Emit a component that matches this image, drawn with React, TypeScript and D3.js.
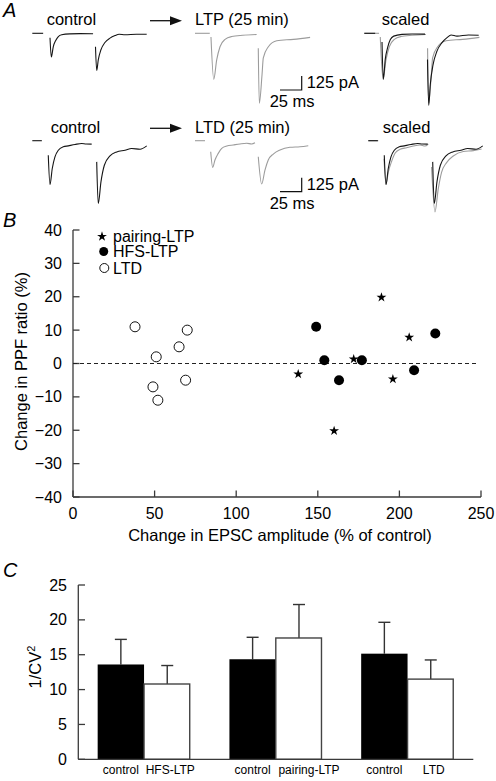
import React from "react";
import * as d3 from "d3";

// ---------- Panel A: EPSC traces ([time ms, current pA]) ----------
const ltpControlPre: [number, number][] = [[0, 0], [12.5, 0]];
const ltpControl1: [number, number][] = [[20.4, -40], [21.9, -212], [24.2, -118], [27, -64], [30, -29], [33.9, -13], [43.4, -5], [55, -3], [70, -4]];
const ltpControl2: [number, number][] = [[72.8, -121], [74.2, -332], [76, -237], [79.1, -147], [83.7, -82], [89.5, -43], [95.3, -20], [100, -8], [106.8, -13], [120, -8], [131.8, -9]];
const ltpPostPre: [number, number][] = [[0, 0], [17, 0]];
const ltpPost1: [number, number][] = [[18.4, -33], [21.6, -411], [25, -238], [28.8, -120], [34.6, -54], [42.2, -29], [55, -18], [71, -11]];
const ltpPost2: [number, number][] = [[72.9, -134], [74.1, -625], [77.2, -372], [78.7, -220], [84.5, -120], [94.2, -66], [113.4, -54], [132.6, -36]];

const ltdControlPre: [number, number][] = [[0, 0], [11, 0]];
const ltdControl1: [number, number][] = [[18.4, -129], [20.4, -391], [23, -248], [26.1, -145], [30, -85], [35.7, -55], [41.5, -46], [49.2, -34], [56.9, -25], [62, -30], [68.4, -31]];
const ltdControl2: [number, number][] = [[74.2, -189], [76, -561], [79.1, -368], [83, -219], [89.5, -136], [97.2, -100], [106.8, -85], [114.5, -70], [124.1, -76], [131.8, -46]];
const ltdPostPre: [number, number][] = [[0, 0], [11.5, 0]];
const ltdPost1: [number, number][] = [[18.1, -98], [20.4, -238], [23, -172], [26.8, -113], [30.8, -68], [36.7, -47], [44.1, -38], [51.8, -29], [59.6, -23], [65.3, -29], [69.1, -18]];
const ltdPost2: [number, number][] = [[72.9, -143], [76.8, -387], [80.6, -262], [84.4, -172], [90.2, -119], [97.9, -83], [109.4, -59], [121, -54], [130.5, -45]];

const scaleBarMs = 25;
const scaleBarPA = 125;

// ---------- Panel B: PPF vs EPSC amplitude ----------
const pairingLTP: [number, number][] = [[138, -3], [160, -20], [172, 1.5], [189, 20], [206, 8], [196, -4.5]];
const hfsLTP: [number, number][] = [[149, 11], [154, 1], [163, -5], [177, 1], [209, -2], [222, 9]];
const ltdPoints: [number, number][] = [[38, 11], [51, 2], [49, -7], [52, -11], [65, 5], [70, 10], [69, -5]];
const bXTicks = [0, 50, 100, 150, 200, 250];
const bYTicks = [-40, -30, -20, -10, 0, 10, 20, 30, 40];
const legendLabels = ["pairing-LTP", "HFS-LTP", "LTD"];

// ---------- Panel C: 1/CV^2 bars ----------
const groups = ["HFS", "pairing", "LTD"];
const barLabels = [["control", "HFS-LTP"], ["control", "pairing-LTP"], ["control", "LTD"]];
const barValues = [[13.6, 10.8], [14.35, 17.4], [15.15, 11.5]];
const barErrors = [[3.6, 2.65], [3.15, 4.8], [4.5, 2.75]];
const cYTicks = [0, 5, 10, 15, 20, 25];

const FONT = "'Liberation Sans', Arial, Helvetica, sans-serif";
const AXIS = "#3a3a3a";

type Pt = [number, number];

function TraceGroup({ colStart, baseline, segs, color, factor = 1 }: { colStart: number; baseline: number; segs: Pt[][]; color: string; factor?: number }) {
  const x = d3.scaleLinear().domain([0, scaleBarMs]).range([colStart, colStart + 21.7]);
  const y = d3.scaleLinear().domain([0, -scaleBarPA]).range([baseline, baseline + 14]);
  const line = d3.line<Pt>().x((d) => x(d[0])).y((d) => y(d[1] * factor)).curve(d3.curveMonotoneX);
  return (
    <g>
      {segs.map((s, i) => (
        <path key={i} d={line(s) || ""} fill="none" stroke={color} strokeWidth={1.1} strokeLinejoin="round" />
      ))}
    </g>
  );
}

function ScaleBar({ cx, cy, labelY1, labelY2 }: { cx: number; cy: number; labelY1: number; labelY2: number }) {
  const x = d3.scaleLinear().domain([0, scaleBarMs]).range([0, 21.7]);
  const y = d3.scaleLinear().domain([0, scaleBarPA]).range([0, 14]);
  return (
    <g>
      <path d={`M${cx - x(scaleBarMs)},${cy}H${cx}V${cy - y(scaleBarPA)}`} fill="none" stroke="#111" strokeWidth={1.2} />
      <text x={cx + 5} y={labelY1} fontSize={16.5} fontFamily={FONT}>{`${scaleBarPA} pA`}</text>
      <text x={cx - 32} y={labelY2} fontSize={16.5} fontFamily={FONT}>{`${scaleBarMs} ms`}</text>
    </g>
  );
}

function Arrow({ y }: { y: number }) {
  return (
    <g>
      <line x1={150} x2={172} y1={y} y2={y} stroke="#111" strokeWidth={1.3} />
      <polygon points={`170,${y - 4.5} 182,${y} 170,${y + 4.5}`} fill="#111" />
    </g>
  );
}

function peak(s: Pt[]) {
  return d3.min(s, (d) => d[1]) as number;
}

function PanelA() {
  const gray = "#9c9c9c";
  const black = "#151515";
  // LTP row: scale control up to LTP amplitude
  const kLtp = peak(ltpPost1) / peak(ltpControl1);
  // LTD row: scale LTD up to control amplitude
  const kLtd = peak(ltdControl1) / peak(ltdPost1);
  const r1 = 33.3, r2 = 140.7;
  const fs = 16.5;
  return (
    <g fontFamily={FONT}>
      <text x={3} y={17} fontSize={20} fontStyle="italic">A</text>
      {/* row 1 */}
      <text x={46.7} y={25} fontSize={fs}>control</text>
      <text x={195} y={25} fontSize={fs}>LTP (25 min)</text>
      <text x={381.7} y={25} fontSize={fs}>scaled</text>
      <Arrow y={20.7} />
      <TraceGroup colStart={32.3} baseline={r1} segs={[ltpControlPre, ltpControl1, ltpControl2]} color={black} />
      <TraceGroup colStart={195} baseline={r1} segs={[ltpPostPre, ltpPost1, ltpPost2]} color={gray} />
      <TraceGroup colStart={364.3} baseline={r1} segs={[ltpPostPre, ltpPost1, ltpPost2]} color={gray} />
      <TraceGroup colStart={364.3} baseline={r1} segs={[ltpControlPre, ltpControl1, ltpControl2]} color={black} factor={kLtp} />
      <ScaleBar cx={301.7} cy={90} labelY1={88.3} labelY2={107.3} />
      {/* row 2 */}
      <text x={50.7} y={133} fontSize={fs}>control</text>
      <text x={195} y={133} fontSize={fs}>LTD (25 min)</text>
      <text x={382.7} y={133} fontSize={fs}>scaled</text>
      <Arrow y={128.3} />
      <TraceGroup colStart={32.3} baseline={r2} segs={[ltdControlPre, ltdControl1, ltdControl2]} color={black} />
      <TraceGroup colStart={195} baseline={r2} segs={[ltdPostPre, ltdPost1, ltdPost2]} color={gray} />
      <TraceGroup colStart={368.3} baseline={r2} segs={[ltdPostPre, ltdPost1, ltdPost2]} color={gray} factor={kLtd} />
      <TraceGroup colStart={368.3} baseline={r2} segs={[ltdControlPre, ltdControl1, ltdControl2]} color={black} />
      <ScaleBar cx={301.7} cy={191.7} labelY1={190} labelY2={209.3} />
    </g>
  );
}

function PanelB() {
  const x = d3.scaleLinear().domain([0, 250]).range([73, 481]);
  const y = d3.scaleLinear().domain([-40, 40]).range([497, 230]);
  const star = d3.symbol().type(d3.symbolStar).size(30)() || "";
  const legY = [236, 251.5, 268];
  return (
    <g fontFamily={FONT}>
      <text x={3} y={227} fontSize={20} fontStyle="italic">B</text>
      <line x1={x(0)} x2={x(0)} y1={y(40)} y2={y(-40)} stroke={AXIS} strokeWidth={1.3} />
      <line x1={x(0)} x2={x(250)} y1={y(-40)} y2={y(-40)} stroke={AXIS} strokeWidth={1.3} />
      {bYTicks.map((t) => (
        <g key={t}>
          <line x1={x(0)} x2={x(0) + 6.5} y1={y(t)} y2={y(t)} stroke={AXIS} strokeWidth={1.3} />
          <text x={62} y={y(t)} dy="0.35em" textAnchor="end" fontSize={16}>{t < 0 ? `\u2212${-t}` : `${t}`}</text>
        </g>
      ))}
      {bXTicks.map((t) => (
        <g key={t}>
          <line x1={x(t)} x2={x(t)} y1={y(-40)} y2={y(-40) - 6.5} stroke={AXIS} strokeWidth={1.3} />
          <text x={x(t)} y={518.5} textAnchor="middle" fontSize={16}>{t}</text>
        </g>
      ))}
      <line x1={x(0)} x2={x(248)} y1={y(0)} y2={y(0)} stroke="#222" strokeWidth={1} strokeDasharray="4,3" />
      <text transform={`translate(27,${y(0) - 2}) rotate(-90)`} textAnchor="middle" fontSize={16.5}>Change in PPF ratio (%)</text>
      <text x={280} y={540.5} textAnchor="middle" fontSize={16.5}>Change in EPSC amplitude (% of control)</text>
      {ltdPoints.map((d, i) => (
        <circle key={`l${i}`} cx={x(d[0])} cy={y(d[1])} r={5} fill="#fff" stroke="#111" strokeWidth={1} />
      ))}
      {hfsLTP.map((d, i) => (
        <circle key={`h${i}`} cx={x(d[0])} cy={y(d[1])} r={5} fill="#000" />
      ))}
      {pairingLTP.map((d, i) => (
        <path key={`p${i}`} d={star} transform={`translate(${x(d[0])},${y(d[1]) + 0.6})`} fill="#000" />
      ))}
      {/* legend */}
      <path d={star} transform={`translate(102,${legY[0] + 0.5})`} fill="#000" />
      <circle cx={103.7} cy={legY[1]} r={4.5} fill="#000" />
      <circle cx={104.3} cy={legY[2]} r={4.5} fill="#fff" stroke="#111" strokeWidth={1} />
      {legendLabels.map((l, i) => (
        <text key={l} x={113} y={legY[i]} dy="0.36em" fontSize={16}>{l}</text>
      ))}
    </g>
  );
}

function PanelC() {
  const y = d3.scaleLinear().domain([0, 25]).range([759.3, 585]);
  const gx = d3.scaleBand().domain(groups).range([78.3, 473.3]).paddingInner(0.296).paddingOuter(0.147);
  const bx = d3.scaleBand().domain(["control", "post"]).range([0, gx.bandwidth()]);
  return (
    <g fontFamily={FONT}>
      <text x={3} y={577} fontSize={20} fontStyle="italic">C</text>
      {groups.map((g, gi) => (
        <g key={g} transform={`translate(${gx(g)},0)`}>
          {["control", "post"].map((b, bi) => {
            const v = barValues[gi][bi];
            const e = barErrors[gi][bi];
            const x0 = bx(b) as number;
            const w = bx.bandwidth();
            const cx = x0 + w / 2;
            const labelShift = bi === 0 ? 0 : gi === 1 ? 10 : 3;
            return (
              <g key={b}>
                <line x1={cx} x2={cx} y1={y(v)} y2={y(v + e)} stroke="#333" strokeWidth={1.4} />
                <line x1={cx - 6} x2={cx + 6} y1={y(v + e)} y2={y(v + e)} stroke="#333" strokeWidth={1.4} />
                {bi === 0 ? (
                  <rect x={x0} y={y(v)} width={w} height={y(0) - y(v)} fill="#000" />
                ) : (
                  <rect x={x0} y={y(v)} width={w - 0.7} height={y(0) - y(v)} fill="#fff" stroke="#444" strokeWidth={1.4} />
                )}
                <text x={cx + labelShift} y={774} textAnchor="middle" fontSize={12}>{barLabels[gi][bi]}</text>
              </g>
            );
          })}
        </g>
      ))}
      <line x1={78.3} x2={78.3} y1={y(25)} y2={y(0)} stroke={AXIS} strokeWidth={1.3} />
      <line x1={78.3} x2={473.3} y1={y(0)} y2={y(0)} stroke={AXIS} strokeWidth={1.3} />
      {cYTicks.map((t) => (
        <g key={t}>
          <line x1={78.3} x2={85} y1={y(t)} y2={y(t)} stroke={AXIS} strokeWidth={1.3} />
          <text x={67} y={y(t)} dy="0.35em" textAnchor="end" fontSize={16}>{t}</text>
        </g>
      ))}
      <text transform={`translate(41,${667}) rotate(-90)`} textAnchor="middle" fontSize={16.5}>
        1/CV<tspan fontSize={11} dy={-6}>2</tspan>
      </text>
    </g>
  );
}

export default function App() {
  return (
    <svg width={496} height={781} viewBox="0 0 496 781" style={{ position: "absolute", left: 0, top: 0, background: "#fff", display: "block" }}>
      <rect width={496} height={781} fill="#fff" />
      <PanelA />
      <PanelB />
      <PanelC />
    </svg>
  );
}
